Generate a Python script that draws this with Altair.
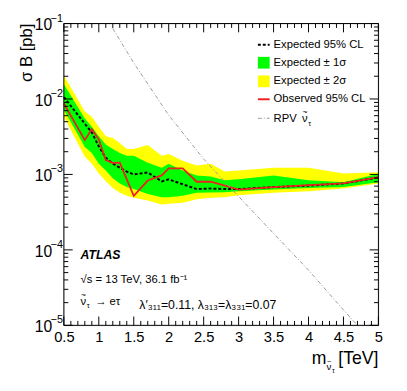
import altair as alt
import pandas as pd

# ---------------- data ----------------
mass = [0.5, 0.8, 0.9, 1.0, 1.1, 1.2, 1.3, 1.4, 1.5, 1.7, 1.9, 2.0, 2.2, 2.4, 2.6, 2.8, 3.0, 3.5, 4.0, 4.5, 5.0]
exp_limit = [1.06e-2, 4.7e-3, 3.6e-3, 2.35e-3, 1.66e-3, 1.39e-3, 1.23e-3, 1.09e-3, 1.0e-3, 1.06e-3, 8.1e-4,
             8.6e-4, 7.4e-4, 6.4e-4, 6.5e-4, 6.4e-4, 6.4e-4, 6.8e-4, 7.1e-4, 7.6e-4, 9.1e-4]
band1_hi = [1.57e-2, 5.5e-3, 4.3e-3, 3.2e-3, 2.5e-3, 2.18e-3, 1.93e-3, 1.77e-3, 1.77e-3, 1.43e-3, 1.23e-3,
            1.39e-3, 1.13e-3, 9.7e-4, 9.4e-4, 8.4e-4, 8.6e-4, 9.7e-4, 8.4e-4, 7.9e-4, 1.02e-3]
band1_lo = [7.2e-3, 2.31e-3, 1.93e-3, 1.39e-3, 1.13e-3, 8.9e-4, 7.6e-4, 6.8e-4, 6.4e-4, 5.5e-4, 5.0e-4,
            5.0e-4, 5.2e-4, 5.7e-4, 5.75e-4, 5.8e-4, 6.0e-4, 6.3e-4, 6.6e-4, 6.8e-4, 7.9e-4]
band2_hi = [2.05e-2, 6.8e-3, 5.8e-3, 4.3e-3, 3.2e-3, 3.03e-3, 2.6e-3, 2.18e-3, 2.18e-3, 2.45e-3, 1.77e-3,
            1.87e-3, 1.52e-3, 1.31e-3, 1.39e-3, 1.09e-3, 1.13e-3, 1.23e-3, 1.23e-3, 1.03e-3, 1.07e-3]
band2_lo = [5.8e-3, 1.71e-3, 1.39e-3, 1.03e-3, 8.1e-4, 6.6e-4, 5.7e-4, 5.2e-4, 4.9e-4, 4.5e-4, 4.0e-4,
            4.1e-4, 4.2e-4, 4.7e-4, 4.9e-4, 5.0e-4, 5.3e-4, 5.7e-4, 6.0e-4, 6.5e-4, 7.6e-4]

obs_mass = [0.5, 0.8, 0.9, 1.0, 1.1, 1.2, 1.3, 1.5, 1.7, 1.9, 2.0, 2.2, 2.4, 2.6, 3.0, 3.5, 4.0, 4.5, 5.0]
obs_limit = [8.7e-3, 2.85e-3, 4.0e-3, 2.9e-3, 1.55e-3, 1.42e-3, 1.43e-3, 5.2e-4, 8.3e-4, 9.7e-4, 1.2e-3,
             1.2e-3, 8.0e-4, 8.0e-4, 6.3e-4, 6.8e-4, 7.2e-4, 7.6e-4, 9.2e-4]

rpv_mass = [1.2, 1.5, 2.0, 2.5, 3.0, 3.5, 4.0, 4.5, 4.7]
rpv_xsec = [8.6e-2, 3.0e-2, 6.1e-3, 1.6e-3, 5.1e-4, 1.65e-4, 5.4e-5, 1.6e-5, 1.0e-5]

x_major = [0.5, 1.0, 1.5, 2.0, 2.5, 3.0, 3.5, 4.0, 4.5, 5.0]
x_minor = [0.6, 0.7, 0.8, 0.9, 1.1, 1.2, 1.3, 1.4, 1.6, 1.7, 1.8, 1.9, 2.1, 2.2, 2.3, 2.4,
           2.6, 2.7, 2.8, 2.9, 3.1, 3.2, 3.3, 3.4, 3.6, 3.7, 3.8, 3.9, 4.1, 4.2, 4.3, 4.4,
           4.6, 4.7, 4.8, 4.9]
y_major = [1e-5, 1e-4, 1e-3, 1e-2, 1e-1]
y_exponents = ["\u22125", "\u22124", "\u22123", "\u22122", "\u22121"]
y_minor = [m * 10.0 ** e for e in (-5, -4, -3, -2) for m in (2, 3, 4, 5, 6, 7, 8, 9)]

legend_labels = ["Expected 95% CL", "Expected \u00b1 1\u03c3", "Expected \u00b1 2\u03c3", "Observed 95% CL", "RPV"]

# ---------------- styling ----------------
W, H = 321, 308
FONT = "Liberation Sans"
RED = "#ee2020"
GRAY = "#9a9a9a"
xs = alt.Scale(domain=[0.5, 5.0], nice=False, zero=False)
ys = alt.Scale(type="log", domain=[1e-5, 1e-1], nice=False)

band_df = pd.DataFrame({"m": mass, "exp": exp_limit, "b1lo": band1_lo, "b1hi": band1_hi,
                        "b2lo": band2_lo, "b2hi": band2_hi})
obs_df = pd.DataFrame({"m": obs_mass, "v": obs_limit})
rpv_df = pd.DataFrame({"m": rpv_mass, "v": rpv_xsec})

x_axis = alt.Axis(values=x_major, format=".1~f", ticks=False, domain=False,
                  grid=False, labelFont=FONT, labelFontSize=15, labelPadding=5,
                  labelOverlap=False, labelBound=False, labelFlush=False,
                  labelColor="black", title=None)
X = alt.X("m:Q", scale=xs, axis=x_axis)

def Y(f):
    return alt.Y(f, scale=ys, axis=None, title=None)

yellow = alt.Chart(band_df).mark_area(color="#ffff00", opacity=1).encode(
    x=X, y=Y("b2lo:Q"), y2="b2hi:Q")
green = alt.Chart(band_df).mark_area(color="#00ff00", opacity=1).encode(
    x=X, y=Y("b1lo:Q"), y2="b1hi:Q")
expected = alt.Chart(band_df).mark_line(color="black", strokeWidth=2, strokeDash=[3, 2]).encode(
    x=X, y=Y("exp:Q"))
observed = alt.Chart(obs_df).mark_line(color=RED, strokeWidth=1.8).encode(
    x=X, y=Y("v:Q"))
rpv = alt.Chart(rpv_df).mark_line(color=GRAY, strokeWidth=1, strokeDash=[4, 2, 1, 2], clip=True).encode(
    x=X, y=Y("v:Q"))

# ticks (inside, all four sides)
def xticks(vals, length):
    d = pd.DataFrame({"m": vals})
    b = alt.Chart(d).mark_rule(color="black", strokeWidth=1).encode(
        x=X, y=alt.value(H), y2=alt.value(H - length))
    t = alt.Chart(d).mark_rule(color="black", strokeWidth=1).encode(
        x=X, y=alt.value(0), y2=alt.value(length))
    return [b, t]

def yticks(vals, length):
    d = pd.DataFrame({"v": vals})
    l = alt.Chart(d).mark_rule(color="black", strokeWidth=1).encode(
        y=Y("v:Q"), x=alt.value(0), x2=alt.value(length))
    r = alt.Chart(d).mark_rule(color="black", strokeWidth=1).encode(
        y=Y("v:Q"), x=alt.value(W), x2=alt.value(W - length))
    return [l, r]

tick_layers = xticks(x_major, 9) + xticks(x_minor, 4.5) + yticks(y_major, 9) + yticks(y_minor, 4.5)

def one():
    return pd.DataFrame({"a": [0]})

frame = alt.Chart(one()).mark_rect(fill=None, stroke="black", strokeWidth=1).encode(
    x=alt.value(0), x2=alt.value(W), y=alt.value(0), y2=alt.value(H))

# y-axis labels 10^n
ylab_df = pd.DataFrame({"v": y_major, "e": y_exponents})
ylab10 = alt.Chart(ylab_df).mark_text(text="10", align="right", baseline="middle", dy=2,
                                      font=FONT, fontSize=16, color="black").encode(
    y=Y("v:Q"), x=alt.value(-12))
ylabexp = alt.Chart(ylab_df).mark_text(align="right", baseline="middle", dy=-5,
                                       font=FONT, fontSize=11, color="black").encode(
    y=Y("v:Q"), x=alt.value(-1), text="e:N")

def txt(s, x, y, size, **kw):
    opts = dict(font=FONT, fontSize=size, color="black", align="left", baseline="alphabetic")
    opts.update(kw)
    return alt.Chart(one()).mark_text(text=s, **opts).encode(x=alt.value(x), y=alt.value(y))

def nu_tilde(x, y, size, tsize):
    # nu with a tilde above it and a tau subscript
    w = size * 0.52
    return [
        txt("\u03bd", x, y, size),
        txt("~", x + w / 2, y - size * 0.62, size * 0.75, align="center"),
        txt("\u03c4", x + w + 0.5, y + size * 0.3, tsize),
    ]

# axis titles
titles = [
    txt("\u03c3 B [pb]", -37, 0, 17, angle=270, align="right", baseline="middle"),
    txt("m", 253, 347, 18),
    *nu_tilde(268, 354, 10, 7),
    txt("[TeV]", 321, 347, 18, align="right"),
]

# legend
rows = [21.7, 40.0, 59.0, 77.3, 96.7]

def legline(y, **kw):
    return alt.Chart(one()).mark_rule(**kw).encode(
        x=alt.value(198), x2=alt.value(210), y=alt.value(y))

def legbox(y, color):
    return alt.Chart(one()).mark_rect(color=color).encode(
        x=alt.value(198), x2=alt.value(210), y=alt.value(y - 6), y2=alt.value(y + 6))

legend_layers = [
    legline(rows[0], color="black", strokeWidth=2, strokeDash=[3, 2]),
    legbox(rows[1], "#00ff00"),
    legbox(rows[2], "#ffff00"),
    legline(rows[3], color=RED, strokeWidth=2),
    legline(rows[4], color=GRAY, strokeWidth=1, strokeDash=[4, 2, 1, 2]),
]
legend_layers += [txt(lbl, 214, r, 11.5, baseline="middle") for lbl, r in zip(legend_labels[:4], rows[:4])]
legend_layers += [txt(legend_labels[4], 214, rows[4] + 4, 11.5)]
legend_layers += nu_tilde(243, rows[4] + 4, 11.5, 7.5)

# annotations
annots = [
    txt("ATLAS", 17, 240, 12.5, fontWeight="bold", fontStyle="italic"),
    txt("\u221as = 13 TeV, 36.1 fb\u207b\u00b9", 17, 265, 11.5),
    *nu_tilde(17, 287, 11.5, 7.5),
    txt("\u2192 e\u03c4", 32, 287, 11.5),
    txt("\u03bb\u2032\u2083\u2081\u2081=0.11, \u03bb\u2083\u2081\u2083=\u03bb\u2083\u2083\u2081=0.07", 77, 291, 12.5),
]

chart = alt.layer(
    yellow, green, expected, observed, rpv, *tick_layers, frame, ylab10, ylabexp,
    *titles, *legend_layers, *annots
).properties(
    width=W, height=H,
    padding={"left": 57, "top": 12, "right": 21, "bottom": 55},
    autosize=alt.AutoSizeParams(type="none"),
).configure_view(stroke=None).configure(background="white")

chart.save("out.html", embed_options={"renderer": "svg", "actions": False})
